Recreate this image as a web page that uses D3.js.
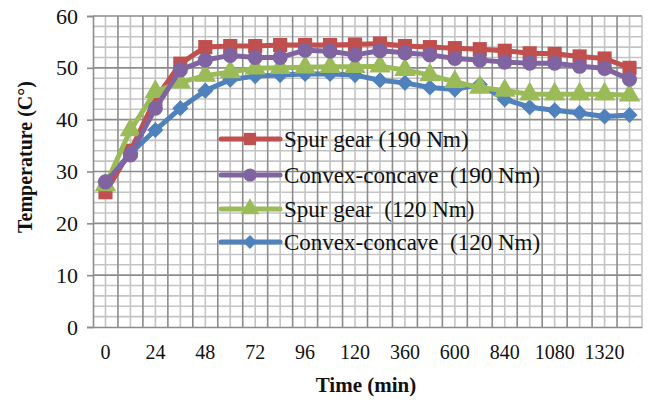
<!DOCTYPE html>
<html>
<head>
<meta charset="utf-8">
<script src="https://cdn.jsdelivr.net/npm/d3@7/dist/d3.min.js"></script>
<style>
  html, body { margin: 0; padding: 0; background: #fff; }
  svg { display: block; font-family: "Liberation Serif", "Times New Roman", serif; }
</style>
</head>
<body>
<div id="chart"></div>
<script>
// time categories (min) and the labels shown on the axis
var times = [0, 12, 24, 36, 48, 60, 72, 84, 96, 108, 120, 240, 360, 480, 600, 720, 840, 960, 1080, 1200, 1320, 1440];
var shownTimes = [0, 24, 48, 72, 96, 120, 360, 600, 840, 1080, 1320];
var yTicks = [0, 10, 20, 30, 40, 50, 60];

var spur190 = [26, 34, 44, 50.8, 54, 54.2, 54.2, 54.4, 54.4, 54.4, 54.5, 54.7, 54.2, 54, 53.8, 53.6, 53.3, 52.8, 52.7, 52.2, 51.8, 50];
var convex190 = [28, 33.2, 42.2, 49.6, 51.5, 52.4, 52, 52, 53.4, 53.2, 52.5, 53.3, 52.9, 52.5, 51.8, 51.5, 51.1, 50.9, 50.9, 50.3, 49.9, 47.8];
var spur120 = [27.4, 38, 45.4, 47.2, 48.5, 49.2, 49.9, 50, 50.1, 50.2, 50.2, 50.3, 49.6, 48.6, 47.3, 46.2, 45.6, 44.9, 44.9, 44.9, 44.9, 44.7];
var convex120 = [28, 33.5, 38, 42.2, 45.6, 47.7, 48.4, 48.6, 48.8, 48.8, 48.6, 47.6, 47.1, 46.2, 45.8, 46.8, 43.9, 42.4, 41.8, 41.3, 40.6, 40.9];

var seriesNames = ["Spur gear (190 Nm)", "Convex-concave  (190 Nm)", "Spur gear  (120 Nm)", "Convex-concave  (120 Nm)"];
var seriesColors = ["#C0504D", "#8064A2", "#9BBB59", "#4F81BD"];

var W = 648, H = 403;
var plotLeft = 93, plotRight = 642, plotTop = 16, plotBottom = 327;

var svg = d3.select("#chart").append("svg").attr("width", W).attr("height", H);

var x = d3.scaleBand().domain(times.map(String)).range([plotLeft, plotRight]).paddingInner(0).paddingOuter(0);
var y = d3.scaleLinear().domain([0, 60]).range([plotBottom, plotTop]);
var bw = x.bandwidth();
var cx = function(t) { return x(String(t)) + bw / 2; };

// minor grid
var grid = svg.append("g");
grid.selectAll("line.hmin").data(d3.range(0, 61, 2).filter(function(v) { return v % 10 !== 0; }))
  .enter().append("line")
  .attr("x1", plotLeft).attr("x2", plotRight)
  .attr("y1", function(d) { return y(d); }).attr("y2", function(d) { return y(d); })
  .attr("stroke", "#c4c4c4").attr("stroke-width", 1.6);
grid.selectAll("line.vmin").data(times)
  .enter().append("line")
  .attr("x1", cx).attr("x2", cx)
  .attr("y1", plotTop).attr("y2", plotBottom)
  .attr("stroke", "#c4c4c4").attr("stroke-width", 1.6);
// major grid
grid.selectAll("line.hmaj").data(yTicks.slice(1))
  .enter().append("line")
  .attr("x1", plotLeft).attr("x2", plotRight)
  .attr("y1", function(d) { return y(d); }).attr("y2", function(d) { return y(d); })
  .attr("stroke", "#8c8c8c").attr("stroke-width", 1.6);
grid.selectAll("line.vmaj").data(times.slice(1))
  .enter().append("line")
  .attr("x1", function(d) { return x(String(d)); }).attr("x2", function(d) { return x(String(d)); })
  .attr("y1", plotTop).attr("y2", plotBottom)
  .attr("stroke", "#8c8c8c").attr("stroke-width", 1.6);
grid.append("line").attr("x1", plotRight).attr("x2", plotRight).attr("y1", plotTop).attr("y2", plotBottom)
  .attr("stroke", "#c4c4c4").attr("stroke-width", 1.6);

// axes
var yAxis = d3.axisLeft(y).tickValues(yTicks).tickSize(6).tickPadding(9);
var gy = svg.append("g").attr("transform", "translate(" + plotLeft + ",0)").call(yAxis);
gy.select(".domain").attr("stroke", "#8c8c8c").attr("stroke-width", 1.6);
gy.selectAll(".tick line").attr("stroke", "#8c8c8c").attr("stroke-width", 1.6);
gy.selectAll("text").attr("font-size", 22).attr("font-family", "Liberation Serif").attr("fill", "#111");

var xAxis = d3.axisBottom(x).tickValues(shownTimes.map(String)).tickSize(0).tickPadding(18);
var gx = svg.append("g").attr("transform", "translate(0," + plotBottom + ")").call(xAxis);
gx.select(".domain").attr("stroke", "#8c8c8c").attr("stroke-width", 1.6);
gx.selectAll("text").attr("font-size", 20).attr("font-family", "Liberation Serif").attr("fill", "#111");

svg.append("text").attr("x", 366).attr("y", 392).attr("text-anchor", "middle")
  .attr("font-size", 21).attr("font-weight", "bold").attr("fill", "#111").text("Time (min)");
svg.append("text").attr("transform", "translate(32," + 157 + ") rotate(-90)").attr("text-anchor", "middle")
  .attr("font-size", 20).attr("font-weight", "bold").attr("fill", "#111").text("Temperature (C°)");

// series
var allData = [spur190, convex190, spur120, convex120];
var symbols = [d3.symbolSquare, d3.symbolCircle, d3.symbolTriangle, d3.symbolSquare];
var sizes = [200, 180, 200, 130];
var rotations = [0, 0, 0, 45];
var drawOrder = [0, 3, 2, 1];

var line = d3.line().x(function(d, i) { return cx(times[i]); }).y(function(d) { return y(d); });

drawOrder.forEach(function(k) {
  var g = svg.append("g");
  g.append("path").datum(allData[k]).attr("d", line)
    .attr("fill", "none").attr("stroke", seriesColors[k]).attr("stroke-width", 5).attr("stroke-linejoin", "round");
  g.selectAll("path.m").data(allData[k]).enter().append("path")
    .attr("class", "m")
    .attr("d", d3.symbol().type(symbols[k]).size(sizes[k]))
    .attr("transform", function(d, i) { return "translate(" + cx(times[i]) + "," + y(d) + ") rotate(" + rotations[k] + ")"; })
    .attr("fill", seriesColors[k]);
});

// legend
var legendY = [139, 175, 209, 242];
var lg = svg.append("g");
seriesNames.forEach(function(name, k) {
  var ly = legendY[k];
  lg.append("line").attr("x1", 221).attr("x2", 280).attr("y1", ly).attr("y2", ly)
    .attr("stroke", seriesColors[k]).attr("stroke-width", 5).attr("stroke-linecap", "round");
  lg.append("path").attr("d", d3.symbol().type(symbols[k]).size(sizes[k] * 0.75))
    .attr("transform", "translate(250," + ly + ") rotate(" + rotations[k] + ")")
    .attr("fill", seriesColors[k]);
  lg.append("text").attr("x", 284).attr("y", ly + 8).attr("font-size", 23)
    .style("white-space", "pre").attr("fill", "#111").text(name);
});
</script>
</body>
</html>
